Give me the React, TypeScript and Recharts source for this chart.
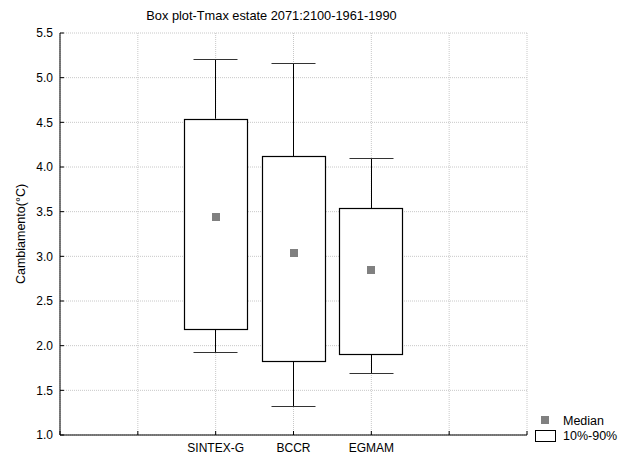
import React from 'react'
import { ComposedChart, Bar, Scatter, XAxis, YAxis, CartesianGrid, Legend } from 'recharts'

const MODELS = ['SINTEX-G', 'BCCR', 'EGMAM']
const POSITIONS = [2, 3, 4]
const WHISKER_LOW = [1.93, 1.32, 1.69]
const BOX_LOW = [2.19, 1.83, 1.91]
const MEDIAN = [3.44, 3.04, 2.85]
const BOX_HIGH = [4.54, 4.12, 3.54]
const WHISKER_HIGH = [5.21, 5.16, 4.1]
const Y_TICKS = [1.0, 1.5, 2.0, 2.5, 3.0, 3.5, 4.0, 4.5, 5.0, 5.5]
const X_TICKS = [0, 1, 2, 3, 4, 5, 6]

const FONT = 'Arial, "Liberation Sans", sans-serif'
const CAP = 44

const data = MODELS.map((name, i) => ({
    x: POSITIONS[i],
    name,
    base: WHISKER_LOW[i],
    lower: BOX_LOW[i] - WHISKER_LOW[i],
    box: BOX_HIGH[i] - BOX_LOW[i],
    upper: WHISKER_HIGH[i] - BOX_HIGH[i],
    median: MEDIAN[i],
}))

const crisp = (v: number) => Math.round(v) + 0.5

const Nothing = () => <g />

const LowerWhisker = (p: any) => {
    const cx = crisp(p.x + p.width / 2)
    const yb = crisp(p.y + p.height)
    return (
        <g>
            <line x1={cx} x2={cx} y1={p.y} y2={yb} stroke="#000" />
            <line x1={cx - CAP / 2} x2={cx + CAP / 2} y1={yb} y2={yb} stroke="#333" />
        </g>
    )
}

const UpperWhisker = (p: any) => {
    const cx = crisp(p.x + p.width / 2)
    const yt = crisp(p.y)
    return (
        <g>
            <line x1={cx} x2={cx} y1={yt} y2={p.y + p.height} stroke="#000" />
            <line x1={cx - CAP / 2} x2={cx + CAP / 2} y1={yt} y2={yt} stroke="#333" />
        </g>
    )
}

const BoxShape = (p: any) => (
    <rect
        x={crisp(p.x)}
        y={crisp(p.y)}
        width={Math.round(p.width)}
        height={Math.round(p.height)}
        fill="#fff"
        stroke="#000"
        strokeWidth={1.2}
    />
)

const MedianMark = (p: any) => (
    <rect x={Math.round(p.cx) - 4} y={Math.round(p.cy) - 4} width={8} height={8} fill="#808080" />
)

const renderLegend = () => (
    <svg width={84} height={32} style={{ display: 'block', overflow: 'visible' }}>
        <rect x={6} y={4} width={8} height={8} fill="#808080" />
        <text x={28} y={13} fontSize={12.5} fontFamily={FONT} fill="#000">Median</text>
        <rect x={0.5} y={18.5} width={20} height={11} fill="#fff" stroke="#000" />
        <text x={28} y={28} fontSize={12.5} fontFamily={FONT} fill="#000">10%-90%</text>
    </svg>
)

const YLabel = (props: any) => {
    const vb = props.viewBox || { x: 0, y: 33, width: 60, height: 402 }
    const cx = vb.x + 25
    const cy = vb.y + vb.height / 2
    return (
        <text x={cx} y={cy} transform={`rotate(-90 ${cx} ${cy})`} textAnchor="middle" fontSize={12.5} fontFamily={FONT} fill="#000">
            Cambiamento(°C)
        </text>
    )
}

export default function App() {
    return (
        <div style={{ position: 'absolute', left: 0, top: 0, width: 618, height: 455, background: '#fff' }}>
            <div
                style={{
                    position: 'absolute',
                    left: 0,
                    top: 8,
                    width: 543,
                    textAlign: 'center',
                    fontFamily: FONT,
                    fontSize: 12.8,
                    lineHeight: '15px',
                    color: '#000',
                }}
            >
                Box plot-Tmax estate 2071:2100-1961-1990
            </div>
            <ComposedChart width={618} height={455} data={data} margin={{ top: 33, right: 91, bottom: 0, left: 0 }}>
                <CartesianGrid stroke="#c8c8c8" strokeDasharray="1 1" />
                <XAxis
                    dataKey="x"
                    type="number"
                    domain={[0, 6]}
                    ticks={X_TICKS}
                    height={20}
                    axisLine={{ stroke: '#000' }}
                    tickLine={{ stroke: '#000' }}
                    tickSize={-4}
                    tickMargin={12}
                    tick={{ fontSize: 12, fontFamily: FONT, fill: '#000' }}
                    tickFormatter={(v: number) => {
                        const i = POSITIONS.indexOf(v)
                        return i >= 0 ? MODELS[i] : ''
                    }}
                />
                <XAxis
                    xAxisId="top"
                    orientation="top"
                    type="number"
                    domain={[0, 6]}
                    ticks={X_TICKS}
                    height={0}
                    axisLine={{ stroke: '#000' }}
                    tickLine={{ stroke: '#000' }}
                    tickSize={-4}
                    tickFormatter={() => ''}
                />
                <YAxis
                    type="number"
                    domain={[1, 5.5]}
                    ticks={Y_TICKS}
                    allowDataOverflow
                    width={60}
                    axisLine={{ stroke: '#000' }}
                    tickLine={{ stroke: '#000' }}
                    tickSize={-4}
                    tickMargin={11}
                    tick={{ fontSize: 12, fontFamily: FONT, fill: '#000' }}
                    tickFormatter={(v: number) => v.toFixed(1)}
                    label={<YLabel />}
                />
                <YAxis
                    yAxisId="right"
                    orientation="right"
                    type="number"
                    domain={[1, 5.5]}
                    ticks={Y_TICKS}
                    width={0}
                    axisLine={{ stroke: '#000' }}
                    tickLine={{ stroke: '#000' }}
                    tickSize={-4}
                    tickFormatter={() => ''}
                />
                <Bar dataKey="base" stackId="bp" barSize={63} shape={Nothing} isAnimationActive={false} legendType="none" />
                <Bar dataKey="lower" stackId="bp" barSize={63} shape={LowerWhisker} isAnimationActive={false} legendType="none" />
                <Bar dataKey="box" stackId="bp" barSize={63} shape={BoxShape} isAnimationActive={false} legendType="none" />
                <Bar dataKey="upper" stackId="bp" barSize={63} shape={UpperWhisker} isAnimationActive={false} legendType="none" />
                <Scatter dataKey="median" shape={MedianMark} isAnimationActive={false} />
                <Legend
                    layout="horizontal"
                    align="center"
                    verticalAlign="middle"
                    content={renderLegend}
                    wrapperStyle={{ left: 535, top: 412, width: 84, height: 32 }}
                />
            </ComposedChart>
        </div>
    )
}
